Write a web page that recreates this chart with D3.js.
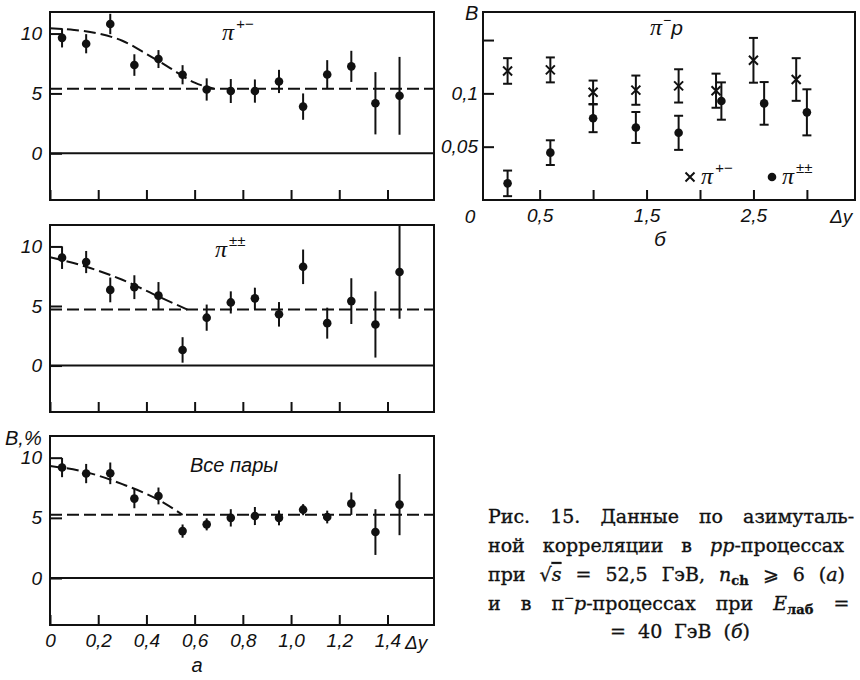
<!DOCTYPE html>
<html>
<head>
<meta charset="utf-8">
<script src="https://cdn.jsdelivr.net/npm/d3@7"></script>
<style>
  body { margin: 0; background: #fff; }
  svg { display: block; }
  .ax text { font-family: "Liberation Sans", sans-serif; font-style: italic; font-size: 19px; fill: #111; }
  .ax line { stroke: #111; stroke-width: 2; }
  .ax path { display: none; }
  .lbl { font-family: "Liberation Sans", sans-serif; font-style: italic; fill: #111; }
  .pi { font-family: "Liberation Serif", serif; font-style: italic; fill: #111; }
  .cap { font-family: "DejaVu Serif", serif; font-size: 19px; fill: #111; stroke: #111; stroke-width: 0.35px; }
</style>
</head>
<body>
<div id="chart"></div>
<script>
// panel a: delta-y bins (same for the three panels)
var dyA = [0.05, 0.15, 0.25, 0.35, 0.45, 0.55, 0.65, 0.75, 0.85, 0.95, 1.05, 1.15, 1.25, 1.35, 1.45];
// pi+- pairs
var bPlusMinus = [9.64, 9.15, 10.8, 7.37, 7.87, 6.56, 5.33, 5.2, 5.2, 6.0, 3.9, 6.58, 7.26, 4.18, 4.8];
var errPlusMinus = [0.8, 0.8, 0.85, 0.9, 0.75, 0.8, 0.93, 1.0, 0.97, 0.97, 1.1, 1.2, 1.3, 2.6, 3.25];
// pi±± pairs
var bSameSign = [9.06, 8.69, 6.35, 6.58, 5.87, 1.31, 4.02, 5.3, 5.64, 4.3, 8.29, 3.56, 5.41, 3.45, 7.86];
var errSameSign = [0.95, 0.93, 1.04, 1.0, 1.14, 1.07, 1.1, 0.93, 0.9, 1.03, 1.45, 1.3, 1.92, 2.78, 3.93];
// all pairs
var bAllPairs = [9.18, 8.68, 8.7, 6.6, 6.82, 3.9, 4.46, 5.0, 5.15, 5.0, 5.68, 5.07, 6.18, 3.82, 6.1];
var errAllPairs = [0.8, 0.8, 0.9, 0.8, 0.7, 0.55, 0.5, 0.72, 0.75, 0.62, 0.46, 0.53, 0.93, 1.9, 2.54];
// dashed fit curves and plateau levels
var fitPlusMinus = [[0, 10.45], [0.1, 10.3], [0.2, 10.0], [0.3, 9.4], [0.4, 8.3], [0.5, 7.1], [0.6, 5.9], [0.68, 5.4]];
var levelPlusMinus = 5.4;
var fitSameSign = [[0, 9.1], [0.15, 8.3], [0.3, 7.2], [0.45, 5.8], [0.57, 4.7]];
var levelSameSign = 4.7;
var fitAllPairs = [[0, 9.3], [0.15, 8.8], [0.3, 7.8], [0.45, 6.5], [0.55, 5.25]];
var levelAllPairs = 5.25;
var yTicksA = [0, 5, 10];
var xTicksA = [0, 0.2, 0.4, 0.6, 0.8, 1.0, 1.2, 1.4];
var xTickLabelsA = ["0", "0,2", "0,4", "0,6", "0,8", "1,0", "1,2", "1,4"];

// panel b: pi- p
var dyCross = [0.2, 0.6, 1.0, 1.4, 1.8, 2.15, 2.5, 2.9];
var bCross = [0.121, 0.122, 0.101, 0.103, 0.107, 0.1025, 0.131, 0.113];
var errCross = [0.012, 0.0117, 0.011, 0.0137, 0.0156, 0.016, 0.021, 0.020];
var dyDot = [0.2, 0.6, 1.0, 1.4, 1.8, 2.2, 2.6, 3.0];
var bDot = [0.0156, 0.0444, 0.0766, 0.068, 0.063, 0.0928, 0.0906, 0.0822];
var errDot = [0.012, 0.0116, 0.013, 0.0145, 0.016, 0.0175, 0.020, 0.0216];
var yTicksB = [0.05, 0.1, 0.15];
var yTickLabelsB = ["0,05", "0,1", ""];
var xTicksB = [0.5, 1.0, 1.5, 2.0, 2.5, 3.0];
var xTickLabelsB = ["0,5", "", "1,5", "", "2,5", ""];

var ink = "#111";
var width = 860, height = 680;

var svg = d3.select("#chart")
    .append("svg")
    .attr("width", width)
    .attr("height", height);

// ---------- panel a ----------
var xA = d3.scaleLinear().domain([0, 1.593]).range([50, 434]);
var yDomainA = [-3.9, 11.8];

function drawPanel(top, bottom, values, errors, fit, level, showLabels) {
    var y = d3.scaleLinear().domain(yDomainA).range([bottom, top]);
    var g = svg.append("g");

    // y ticks (inward) and labels
    g.append("g")
        .attr("class", "ax")
        .attr("transform", "translate(" + xA.range()[0] + ",0)")
        .call(d3.axisLeft(y).tickValues(yTicksA).tickSize(-12).tickPadding(8).tickFormat(d3.format("d")));

    // x ticks (inward)
    g.append("g")
        .attr("class", "ax")
        .attr("transform", "translate(0," + bottom + ")")
        .call(d3.axisBottom(xA).tickValues(xTicksA).tickSize(-10).tickPadding(9)
            .tickFormat(function (d, i) { return showLabels ? xTickLabelsA[i] : ""; }));

    // zero line
    g.append("line")
        .attr("x1", xA.range()[0]).attr("x2", xA.range()[1])
        .attr("y1", y(0)).attr("y2", y(0))
        .attr("stroke", ink).attr("stroke-width", 2);

    // plateau + fit, dashed
    g.append("line")
        .attr("x1", xA.range()[0]).attr("x2", xA.range()[1])
        .attr("y1", y(level)).attr("y2", y(level))
        .attr("stroke", ink).attr("stroke-width", 2)
        .attr("stroke-dasharray", "12,5");
    var line = d3.line()
        .x(function (d) { return xA(d[0]); })
        .y(function (d) { return y(d[1]); })
        .curve(d3.curveMonotoneX);
    g.append("path")
        .attr("d", line(fit))
        .attr("fill", "none")
        .attr("stroke", ink).attr("stroke-width", 2)
        .attr("stroke-dasharray", "12,5");

    // error bars
    g.selectAll(".eb")
        .data(dyA)
        .enter().append("line")
        .attr("x1", function (d) { return xA(d); })
        .attr("x2", function (d) { return xA(d); })
        .attr("y1", function (d, i) { return y(values[i] - errors[i]); })
        .attr("y2", function (d, i) { return y(values[i] + errors[i]); })
        .attr("stroke", ink).attr("stroke-width", 2);

    // points
    g.selectAll(".pt")
        .data(dyA)
        .enter().append("circle")
        .attr("cx", function (d) { return xA(d); })
        .attr("cy", function (d, i) { return y(values[i]); })
        .attr("r", 4.3)
        .attr("fill", ink);

    // frame
    g.append("rect")
        .attr("x", xA.range()[0]).attr("y", top)
        .attr("width", xA.range()[1] - xA.range()[0])
        .attr("height", bottom - top)
        .attr("fill", "none")
        .attr("stroke", ink).attr("stroke-width", 2);
    return g;
}

var gTop = drawPanel(12, 200, bPlusMinus, errPlusMinus, fitPlusMinus, levelPlusMinus, false);
var gMid = drawPanel(225, 412, bSameSign, errSameSign, fitSameSign, levelSameSign, false);
var gBot = drawPanel(436, 625, bAllPairs, errAllPairs, fitAllPairs, levelAllPairs, true);

// panel labels
var t1 = svg.append("text").attr("x", 222).attr("y", 40);
t1.append("tspan").attr("class", "pi").style("font-size", "24px").text("π");
t1.append("tspan").attr("class", "lbl").style("font-size", "15px").attr("dy", -11).attr("dx", 2).text("+−");

var t2 = svg.append("text").attr("x", 215).attr("y", 257);
t2.append("tspan").attr("class", "pi").style("font-size", "24px").text("π");
t2.append("tspan").attr("class", "lbl").style("font-size", "15px").attr("dy", -11).attr("dx", 2).text("±±");

svg.append("text").attr("class", "lbl").attr("x", 190).attr("y", 472)
    .style("font-size", "20px").text("Все пары");
svg.append("text").attr("class", "lbl").attr("x", 5).attr("y", 445)
    .style("font-size", "20px").text("B,%");
svg.append("text").attr("class", "lbl").attr("x", 405).attr("y", 649)
    .style("font-size", "19px").text("Δy");
svg.append("text").attr("class", "lbl").attr("x", 197).attr("y", 672)
    .attr("text-anchor", "middle").style("font-size", "20px").text("а");

// ---------- panel b ----------
var xB = d3.scaleLinear().domain([-0.03, 3.45]).range([483, 855]);
var yB = d3.scaleLinear().domain([0, 0.1763]).range([200, 12]);
var gB = svg.append("g");

gB.append("g")
    .attr("class", "ax")
    .attr("transform", "translate(" + xB.range()[0] + ",0)")
    .call(d3.axisLeft(yB).tickValues(yTicksB).tickSize(-11).tickPadding(5)
        .tickFormat(function (d, i) { return yTickLabelsB[i]; }));
gB.append("g")
    .attr("class", "ax")
    .attr("transform", "translate(0," + yB.range()[0] + ")")
    .call(d3.axisBottom(xB).tickValues(xTicksB).tickSize(-10).tickPadding(9)
        .tickFormat(function (d, i) { return xTickLabelsB[i]; }));

// error bars with caps
function capBars(xs, vals, errs) {
    xs.forEach(function (d, i) {
        var cx = xB(d), y1 = yB(vals[i] - errs[i]), y2 = yB(vals[i] + errs[i]);
        gB.append("line").attr("x1", cx).attr("x2", cx).attr("y1", y1).attr("y2", y2)
            .attr("stroke", ink).attr("stroke-width", 2);
        [y1, y2].forEach(function (yy) {
            gB.append("line").attr("x1", cx - 4.5).attr("x2", cx + 4.5).attr("y1", yy).attr("y2", yy)
                .attr("stroke", ink).attr("stroke-width", 2);
        });
    });
}
capBars(dyCross, bCross, errCross);
capBars(dyDot, bDot, errDot);

var crossPath = function (cx, cy, s) {
    return "M" + (cx - s) + "," + (cy - s) + "L" + (cx + s) + "," + (cy + s) +
        "M" + (cx - s) + "," + (cy + s) + "L" + (cx + s) + "," + (cy - s);
};
gB.selectAll(".cross")
    .data(dyCross)
    .enter().append("path")
    .attr("d", function (d, i) { return crossPath(xB(d), yB(bCross[i]), 4.5); })
    .attr("stroke", ink).attr("stroke-width", 2).attr("fill", "none");
gB.selectAll(".dot")
    .data(dyDot)
    .enter().append("circle")
    .attr("cx", function (d) { return xB(d); })
    .attr("cy", function (d, i) { return yB(bDot[i]); })
    .attr("r", 4.3)
    .attr("fill", ink);

gB.append("rect")
    .attr("x", xB.range()[0]).attr("y", yB.range()[1])
    .attr("width", xB.range()[1] - xB.range()[0])
    .attr("height", yB.range()[0] - yB.range()[1])
    .attr("fill", "none").attr("stroke", ink).attr("stroke-width", 2);

// labels of panel b
svg.append("text").attr("class", "lbl").attr("x", 465).attr("y", 20).style("font-size", "20px").text("B");
svg.append("text").attr("class", "lbl").attr("x", 470).attr("y", 223).attr("text-anchor", "middle").style("font-size", "19px").text("0");
svg.append("text").attr("class", "lbl").attr("x", 830).attr("y", 223).style("font-size", "19px").text("Δy");
svg.append("text").attr("class", "lbl").attr("x", 660).attr("y", 246).attr("text-anchor", "middle").style("font-size", "21px").text("б");

var t3 = svg.append("text").attr("x", 650).attr("y", 35);
t3.append("tspan").attr("class", "pi").style("font-size", "24px").text("π");
t3.append("tspan").attr("class", "lbl").style("font-size", "14px").attr("dy", -10).attr("dx", 1).text("−");
t3.append("tspan").attr("class", "lbl").style("font-size", "21px").attr("dy", 10).text("p");

// legend
gB.append("path").attr("d", crossPath(690, 177, 4.5)).attr("stroke", ink).attr("stroke-width", 2);
var l1 = svg.append("text").attr("x", 701).attr("y", 184);
l1.append("tspan").attr("class", "pi").style("font-size", "24px").text("π");
l1.append("tspan").attr("class", "lbl").style("font-size", "15px").attr("dy", -11).attr("dx", 2).text("+−");
gB.append("circle").attr("cx", 772).attr("cy", 177).attr("r", 4.3).attr("fill", ink);
var l2 = svg.append("text").attr("x", 782).attr("y", 184);
l2.append("tspan").attr("class", "pi").style("font-size", "24px").text("π");
l2.append("tspan").attr("class", "lbl").style("font-size", "15px").attr("dy", -11).attr("dx", 2).text("±±");

// ---------- caption ----------
var c1 = svg.append("text").attr("class", "cap").attr("x", 488).attr("y", 523).style("word-spacing", "14px")
    .text("Рис. 15. Данные по азимуталь-");
var c2 = svg.append("text").attr("class", "cap").attr("x", 488).attr("y", 552).style("word-spacing", "12px");
c2.append("tspan").text("ной корреляции в ");
c2.append("tspan").style("font-style", "italic").text("pp");
c2.append("tspan").text("-процессах");
var c3 = svg.append("text").attr("class", "cap").attr("x", 488).attr("y", 581).style("word-spacing", "8px");
c3.append("tspan").text("при  √");
c3.append("tspan").style("font-style", "italic").style("text-decoration", "overline").text("s");
c3.append("tspan").text(" = 52,5 ГэВ, ");
c3.append("tspan").style("font-style", "italic").text("n");
c3.append("tspan").style("font-size", "13px").style("font-weight", "bold").attr("dy", 4).text("ch");
c3.append("tspan").attr("dy", -4).text(" ⩾ 6 (");
c3.append("tspan").style("font-style", "italic").text("а");
c3.append("tspan").text(")");
var c4 = svg.append("text").attr("class", "cap").attr("x", 488).attr("y", 610).style("word-spacing", "14px");
c4.append("tspan").text("и в π");
c4.append("tspan").style("font-size", "12px").attr("dy", -8).text("−");
c4.append("tspan").style("font-style", "italic").attr("dy", 8).text("p");
c4.append("tspan").text("-процессах при ");
c4.append("tspan").style("font-style", "italic").text("E");
c4.append("tspan").style("font-size", "13px").style("font-weight", "bold").attr("dy", 4).text("лаб");
c4.append("tspan").attr("dy", -4).text(" =");
var c5 = svg.append("text").attr("class", "cap").attr("x", 680).attr("y", 638).attr("text-anchor", "middle")
    .style("word-spacing", "6px");
c5.append("tspan").text("= 40 ГэВ (");
c5.append("tspan").style("font-style", "italic").text("б");
c5.append("tspan").text(")");
</script>
</body>
</html>
